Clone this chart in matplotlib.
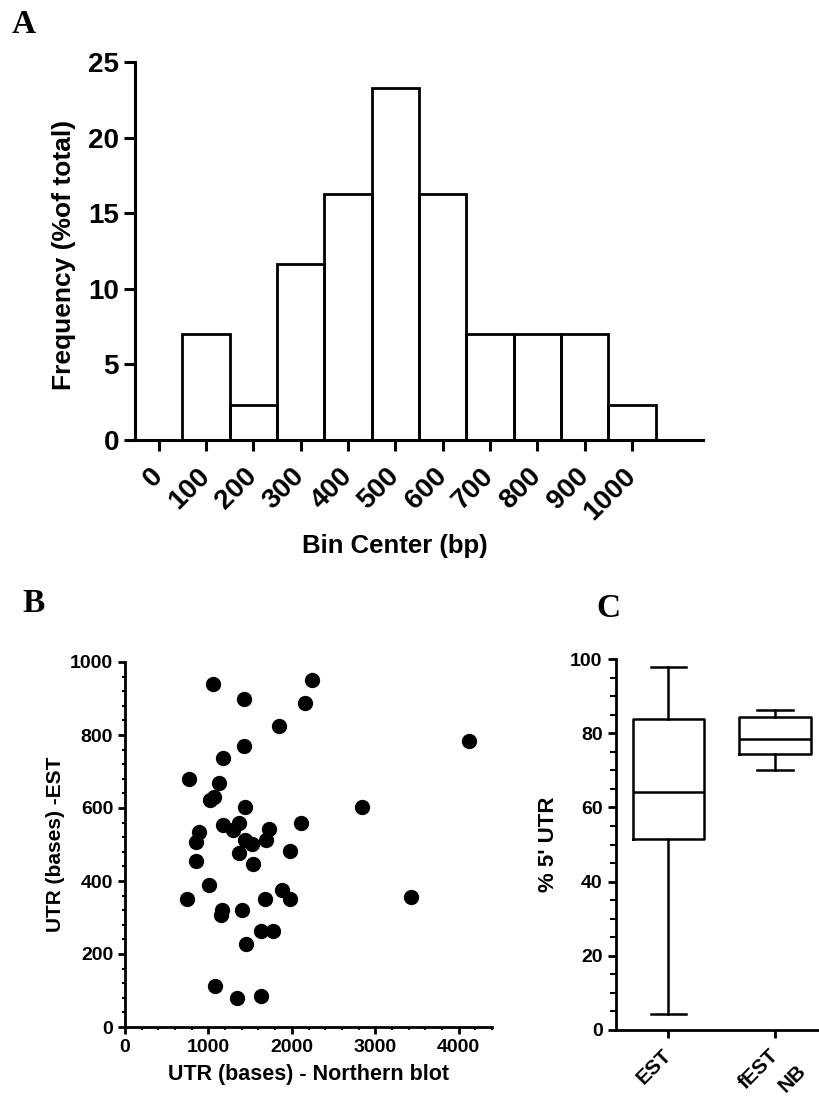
import numpy as np
import matplotlib
matplotlib.use('Agg')
import matplotlib.pyplot as plt
from matplotlib.ticker import MultipleLocator

plt.rcParams['font.family'] = ['Liberation Sans', 'DejaVu Sans']
plt.rcParams['font.weight'] = 'bold'
plt.rcParams['axes.labelweight'] = 'bold'

# Panel A: histogram of UTR length (% of 43 genes)
bin_centers = [0, 100, 200, 300, 400, 500, 600, 700, 800, 900, 1000]
frequency = [0, 6.98, 2.33, 11.63, 16.28, 23.26, 16.28, 6.98, 6.98, 6.98, 2.33]

# Panel B: UTR from Northern blot vs from EST
nb_utr = [1051, 1427, 2238, 2158, 1850, 4125, 1427, 1179, 767, 1127,
          1067, 1019, 1443, 2838, 1179, 1367, 1291, 2110, 1723, 883,
          855, 1439, 1523, 1691, 1978, 1371, 847, 1535, 1003, 739,
          1882, 1974, 1683, 3429, 1159, 1147, 1407, 1631, 1771, 1451,
          1083, 1347, 1631]
est_utr = [940, 899, 952, 887, 825, 784, 770, 737, 680, 669,
           631, 621, 602, 602, 553, 558, 540, 559, 543, 534,
           508, 512, 502, 512, 483, 476, 455, 447, 389, 351,
           375, 351, 351, 355, 320, 307, 320, 264, 264, 227,
           112, 79, 85]

# Panel C: box plots of % 5' UTR
box_labels = ['EST', 'fEST\nNB']
box_whislo = [4.2, 70.0]
box_q1 = [51.4, 74.5]
box_med = [64.1, 78.4]
box_q3 = [83.7, 84.4]
box_whishi = [97.8, 86.2]

W, H = 819, 1097
fig = plt.figure(figsize=(W / 100, H / 100), dpi=100)

def frac(left, top, right, bottom):
    return [left / W, 1 - bottom / H, (right - left) / W, (bottom - top) / H]

letter_font = dict(family='Liberation Serif', weight='bold', fontsize=24)
fig.text(12 / W, 1 - 33 / H, 'A', **letter_font)
fig.text(22 / W, 1 - 612 / H, 'B', **letter_font)
fig.text(596 / W, 1 - 617 / H, 'C', **letter_font)

# ---- A ----
axA = fig.add_axes(frac(135, 62, 703, 440))
axA.bar(bin_centers, frequency, width=100, fill=False, edgecolor='black', linewidth=2.0)
axA.set_xlim(-50, 1150)
axA.set_ylim(0, 25)
axA.set_yticks([0, 5, 10, 15, 20, 25])
axA.set_xticks(bin_centers)
axA.set_xticklabels([str(b) for b in bin_centers], rotation=45, ha='right',
                    va='center', rotation_mode='anchor')
for sp in ['top', 'right']:
    axA.spines[sp].set_visible(False)
for sp in ['left', 'bottom']:
    axA.spines[sp].set_linewidth(2.2)
axA.tick_params(direction='out', length=8, width=2.2, labelsize=20)
axA.tick_params(axis='x', pad=15)
axA.set_ylabel('Frequency (%of total)', fontsize=19)
axA.yaxis.set_label_coords(-0.104, 0.49)
axA.set_xlabel('Bin Center (bp)', fontsize=18.5)
axA.xaxis.set_label_coords(0.458, -0.25)

# ---- B ----
axB = fig.add_axes(frac(125, 662, 492, 1027))
axB.plot(nb_utr, est_utr, 'o', color='black', markersize=10, clip_on=False)
axB.set_xlim(0, 4400)
axB.set_ylim(0, 1000)
axB.xaxis.set_major_locator(MultipleLocator(1000))
axB.xaxis.set_minor_locator(MultipleLocator(200))
axB.yaxis.set_major_locator(MultipleLocator(200))
axB.yaxis.set_minor_locator(MultipleLocator(40))
for sp in ['top', 'right']:
    axB.spines[sp].set_visible(False)
for sp in ['left', 'bottom']:
    axB.spines[sp].set_linewidth(2.0)
axB.tick_params(which='major', direction='out', length=5, width=2.0, labelsize=14)
axB.tick_params(which='minor', direction='out', length=2.5, width=1.5)
axB.set_ylabel('UTR (bases) -EST', fontsize=15)
axB.set_xlabel('UTR (bases) - Northern blot', fontsize=15.5)
axB.xaxis.labelpad = 6

# ---- C ----
axC = fig.add_axes(frac(615.7, 659, 819, 1030))
stats = []
for i in range(len(box_labels)):
    stats.append(dict(label=box_labels[i], whislo=box_whislo[i], q1=box_q1[i],
                      med=box_med[i], q3=box_q3[i], whishi=box_whishi[i], fliers=[]))
line_style = dict(color='black', linewidth=1.8)
axC.bxp(stats, positions=[0, 1], widths=0.667, showfliers=False,
        boxprops=line_style, medianprops=line_style, whiskerprops=line_style,
        capprops=line_style, capwidths=0.33)
axC.set_xlim(-0.493, 1.412)
axC.set_ylim(0, 100)
axC.yaxis.set_major_locator(MultipleLocator(20))
axC.yaxis.set_minor_locator(MultipleLocator(5))
axC.set_xticks([0, 1])
# first line of each label is the tick label, second line sits below it
first_lines = [lab.split('\n')[0] for lab in box_labels]
axC.set_xticklabels(first_lines, rotation=45, ha='right', va='center',
                    rotation_mode='anchor')
for i, lab in enumerate(box_labels):
    parts = lab.split('\n')
    if len(parts) > 1:
        axC.annotate(parts[1], xy=(i, 0), xycoords=axC.get_xaxis_transform(),
                     xytext=(20, -27), textcoords='offset points', fontsize=15,
                     fontweight='bold', rotation=45, rotation_mode='anchor',
                     ha='right', va='center', annotation_clip=False)
for sp in ['top', 'right']:
    axC.spines[sp].set_visible(False)
for sp in ['left', 'bottom']:
    axC.spines[sp].set_linewidth(2.0)
axC.tick_params(which='major', direction='out', length=6, width=2.0, labelsize=14)
axC.tick_params(axis='x', labelsize=15, pad=10)
axC.tick_params(which='minor', direction='out', length=4, width=1.5)
axC.set_ylabel("% 5' UTR", fontsize=16)
axC.yaxis.set_label_coords(-0.279, 0.5)

fig.savefig('out.png', dpi=100)
